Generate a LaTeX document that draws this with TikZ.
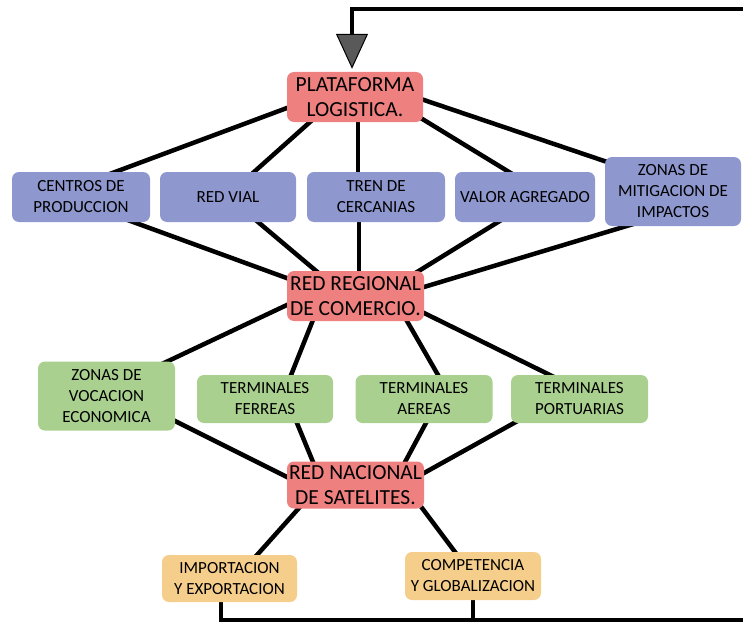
\documentclass[tikz,border=0pt]{standalone}
\usepackage{fontspec}
\setmainfont{Carlito}
\usetikzlibrary{calc,backgrounds,arrows.meta}
\definecolor{redbox}{HTML}{EF8080}
\definecolor{bluebox}{HTML}{8E97CE}
\definecolor{greenbox}{HTML}{A9D08E}
\definecolor{orangebox}{HTML}{F6CE8C}
\tikzset{
  box/.style={rounded corners=7pt, align=center, inner sep=1pt, text=black},
  redb/.style={box, fill=redbox, font=\fontsize{21.5}{25}\selectfont},
  blueb/.style={box, fill=bluebox, font=\fontsize{17}{21}\selectfont},
  greenb/.style={box, fill=greenbox, font=\fontsize{17}{21}\selectfont},
  orangeb/.style={box, fill=orangebox, font=\fontsize{17}{21}\selectfont},
  link/.style={line width=4.5pt, black},
}
\begin{document}
\begin{tikzpicture}[x=1pt,y=-1pt]
\clip (0,0) rectangle (743,623);
% nodes
\node[redb, minimum width=136pt, minimum height=50pt] (plat) at (355,97) {PLATAFORMA\\LOGISTICA.};
\node[blueb, minimum width=138pt, minimum height=50pt] (centros) at (81,197) {CENTROS DE\\PRODUCCION};
\node[blueb, minimum width=136pt, minimum height=50pt] (vial) at (228,197) {RED VIAL};
\node[blueb, minimum width=138pt, minimum height=50pt] (tren) at (376,197) {TREN DE\\CERCANIAS};
\node[blueb, minimum width=140pt, minimum height=50pt] (valor) at (525,197) {VALOR AGREGADO};
\node[blueb, minimum width=136pt, minimum height=69pt] (zonasm) at (673,191.5) {ZONAS DE\\MITIGACION DE\\IMPACTOS};
\node[redb, minimum width=137pt, minimum height=50pt] (reg) at (355.5,296) {RED REGIONAL\\DE COMERCIO.};
\node[greenb, minimum width=137pt, minimum height=69pt] (voc) at (106.5,396) {ZONAS DE\\VOCACION\\ECONOMICA};
\node[greenb, minimum width=136pt, minimum height=48pt] (ferr) at (265,399) {TERMINALES\\FERREAS};
\node[greenb, minimum width=137pt, minimum height=48pt] (aer) at (424,399) {TERMINALES\\AEREAS};
\node[greenb, minimum width=137pt, minimum height=48pt] (port) at (579.5,399) {TERMINALES\\PORTUARIAS};
\node[redb, minimum width=137pt, minimum height=47pt] (nac) at (355.5,485) {RED NACIONAL\\DE SATELITES.};
\node[orangeb, minimum width=135pt, minimum height=47pt] (imp) at (229.5,578.5) {IMPORTACION\\Y EXPORTACION};
\node[orangeb, minimum width=136pt, minimum height=48pt] (comp) at (473,576) {COMPETENCIA\\Y GLOBALIZACION};
% connectors
\begin{scope}[on background layer]
\draw[link] ($(plat)+(-62.4,8.9)$) -- ($(centros)+(28.4,-22.9)$);
\draw[link] ($(plat)+(-40.5,21)$) -- ($(vial)+(21.5,-21)$);
\draw[link] ($(plat)+(3,19)$) -- ($(tren)+(-18,-19)$);
\draw[link] ($(plat)+(63.9,19.9)$) -- ($(valor)+(-10.9,-21.9)$);
\draw[link] ($(plat)+(63.3,1.1)$) -- ($(zonasm)+(-51.3,-24.6)$);
\draw[link] ($(centros)+(46.4,22.9)$) -- ($(reg)+(-65.9,-16.9)$);
\draw[link] ($(vial)+(25.4,21.1)$) -- ($(reg)+(-35.9,-22.1)$);
\draw[link] ($(tren)+(-17,19)$) -- ($(reg)+(3.5,-19)$);
\draw[link] ($(valor)+(-21.9,21.9)$) -- ($(reg)+(56.4,-20.8)$);
\draw[link] ($(zonasm)+(-37.3,31.8)$) -- ($(reg)+(62.8,-7.3)$);
\draw[link] ($(reg)+(-63.1,6.4)$) -- ($(voc)+(54.1,-31.4)$);
\draw[link] ($(reg)+(-40.3,18.4)$) -- ($(ferr)+(23.8,-18.4)$);
\draw[link] ($(reg)+(48.5,19.8)$) -- ($(aer)+(17,-18.8)$);
\draw[link] ($(reg)+(63.1,14.3)$) -- ($(port)+(-24.1,-21.3)$);
\draw[link] ($(voc)+(63.1,22.3)$) -- ($(nac)+(-63.1,-5.3)$);
\draw[link] ($(ferr)+(29.7,18.5)$) -- ($(nac)+(-40.2,-17.5)$);
\draw[link] ($(aer)+(4.8,18.7)$) -- ($(nac)+(46.7,-17.7)$);
\draw[link] ($(port)+(-60.3,21.1)$) -- ($(nac)+(63.3,-9.1)$);
\draw[link] ($(nac)+(-52.5,18.5)$) -- ($(imp)+(23.5,-19)$);
\draw[link] ($(nac)+(62.9,18.2)$) -- ($(comp)+(-14.4,-19.2)$);
\end{scope}
% feedback loop
\coordinate (lb) at (221,620);
\coordinate (rb) at (760,620);
\coordinate (rt) at (760,9);
\coordinate (lt) at (352,9);
\begin{scope}[on background layer]
\draw[link] ($(imp)+(-8.5,10)$) -- (lb) -- (rb);
\draw[link] ($(comp)+(0,10)$) -- (comp |- rb);
\end{scope}
\draw[link, -{Triangle[width=32pt,length=35pt,fill=black!65,line width=1pt]}] (rb) -- (rt) -- (lt) -- ($(plat.north)+(-3,-3)$);
\end{tikzpicture}
\end{document}
